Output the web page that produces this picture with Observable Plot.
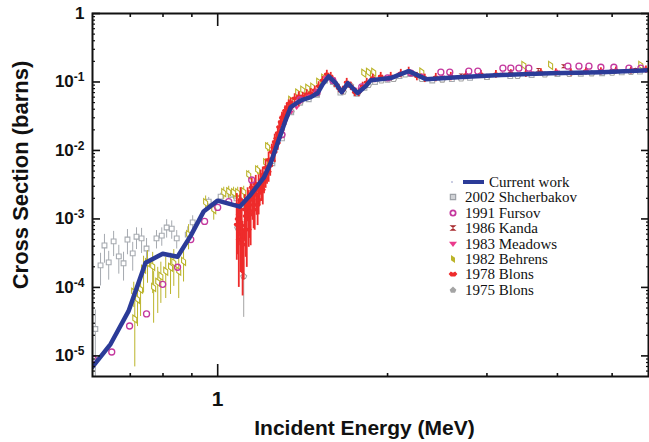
<!DOCTYPE html>
<html><head><meta charset="utf-8">
<script src="https://cdn.jsdelivr.net/npm/d3@7"></script>
<script src="https://cdn.jsdelivr.net/npm/@observablehq/plot@0.6"></script>
<style>
body{margin:0;background:#fff}
#wrap{position:relative;width:649px;height:442px}
.leg{position:absolute;font-family:"Liberation Serif","Times New Roman",serif;font-size:15px;line-height:15px;color:#111;white-space:nowrap}
</style></head><body><div id="wrap"></div>
<script>
// ---------- data (Energy in MeV, cross section in barns, rel = relative uncertainty) ----------
const currentE  = [0.600,0.646,0.695,0.745,0.799,0.849,0.896,0.944,1.000,1.094,1.144,1.207,1.242,1.283,1.320,1.347,1.404,1.462,1.504,1.535,1.573,1.619,1.659,1.700,1.735,1.771,1.830,1.867,2.026,2.111,2.180,2.340,2.660,3.180,3.890,4.780,5.810];
const currentXS = [6.9e-6,1.49e-5,4.5e-5,2.3e-4,3.1e-4,2.8e-4,5.7e-4,1.28e-3,1.85e-3,1.51e-3,2.26e-3,4.0e-3,6.6e-3,1.43e-2,2.8e-2,4.3e-2,5.4e-2,6.0e-2,6.9e-2,9.3e-2,0.121,0.096,0.071,0.096,0.081,0.069,0.087,0.106,0.114,0.130,0.144,0.110,0.117,0.126,0.134,0.139,0.148];

const shchE   = [0.607,0.620,0.630,0.641,0.654,0.668,0.681,0.692,0.707,0.718,0.733,0.748,0.779,0.796,0.812,0.829,0.846,0.885,0.903,0.964,1.012,1.054,1.08,1.10,1.13,1.16,1.20,1.25,1.30,1.35,1.40,1.45,1.50,1.55,1.60,1.65,1.70,1.76,1.82,1.90,2.0,2.1,2.2,2.4,2.6,2.8,3.0,3.3,3.6,4.0,4.4,4.8,5.2,5.6];
const shchXS  = [2.47e-5,2.10e-4,4.1e-4,2.32e-4,4.7e-4,2.84e-4,2.25e-4,5.0e-4,3.14e-4,5.5e-4,5.2e-4,3.7e-4,5.2e-4,5.7e-4,7.5e-4,7.2e-4,5.2e-4,5.9e-4,8.9e-4,1.79e-3,2.12e-3,2.26e-3,2.0e-3,1.6e-3,1.9e-3,2.6e-3,3.5e-3,6.5e-3,1.5e-2,3.6e-2,5.0e-2,5.6e-2,6.5e-2,0.105,0.100,0.070,0.090,0.068,0.082,0.100,0.108,0.122,0.130,0.105,0.110,0.115,0.118,0.122,0.126,0.130,0.132,0.134,0.138,0.142];
const shchRel = [0.9,0.5,0.45,0.45,0.4,0.45,0.45,0.4,0.45,0.35,0.4,0.4,0.3,0.3,0.3,0.3,0.3,0.3,0.25,0.15,0.12,0.12,0.15,0.15,0.12,0.1,0.1,0.08,0.06,0.06,0.06,0.06,0.06,0.06,0.06,0.06,0.06,0.06,0.06,0.06,0.06,0.06,0.06,0.06,0.06,0.06,0.06,0.06,0.06,0.06,0.06,0.06,0.06,0.06];

const fursovE  = [0.602,0.649,0.698,0.748,0.799,0.849,0.896,0.948,1.000,1.046,1.149,1.30,1.40,1.50,1.60,1.80,2.00,2.20,2.486,2.578,2.786,2.891,3.202,3.307,3.418,3.559,4.174,4.367,4.549,4.776,5.036,5.355,5.623];
const fursovXS = [9.0e-6,1.14e-5,2.73e-5,4.1e-5,1.11e-4,1.97e-4,5.0e-4,9.2e-4,1.47e-3,1.79e-3,3.7e-3,0.017,0.055,0.070,0.105,0.085,0.115,0.135,0.139,0.139,0.144,0.144,0.159,0.159,0.159,0.159,0.170,0.170,0.170,0.164,0.164,0.159,0.159];

const kandaE  = [2.2,2.7,3.3,3.7,4.1,4.4,5.0,5.5];
const kandaXS = [0.130,0.125,0.140,0.150,0.170,0.135,0.145,0.150];

const meadowsE  = [1.30,1.35,1.38,1.40,1.45,1.50,1.55,1.60,1.65,1.70,1.75,1.80,1.90,2.00,2.10,2.20,2.30,2.50,2.80,3.20,3.60,4.00,4.50,5.00,5.50];
const meadowsXS = [0.020,0.036,0.042,0.050,0.062,0.075,0.115,0.100,0.075,0.095,0.078,0.080,0.105,0.115,0.130,0.140,0.125,0.118,0.120,0.130,0.135,0.140,0.142,0.145,0.150];

const behrensE   = [0.710,0.713,0.721,0.730,0.739,0.751,0.767,0.770,0.783,0.793,0.809,0.825,0.836,0.853,0.870,0.888,0.952,0.984,1.025,1.046,1.067,1.085,1.112,1.135,1.177,1.216,1.226,1.347,1.386,1.415,1.444,1.474,1.510,1.541,1.815,1.850,1.890,2.300,3.488,3.890,5.620];
const behrensXS  = [8.5e-5,3.45e-5,6.7e-5,9.4e-5,1.84e-4,2.3e-4,2.03e-4,1.0e-4,1.19e-4,1.46e-4,1.72e-4,1.97e-4,2.3e-4,1.72e-4,2.4e-4,5.9e-4,1.73e-3,1.37e-3,2.42e-3,2.5e-3,2.42e-3,2.42e-3,2.5e-3,4.4e-3,5.2e-3,6.6e-3,1.13e-2,5.4e-2,6.9e-2,7.6e-2,8.1e-2,8.4e-2,9.9e-2,0.114,0.134,0.139,0.139,0.140,0.175,0.175,0.175];
const behrensRel = [0.4,0.8,0.6,0.6,0.55,0.5,0.6,0.7,0.65,0.6,0.6,0.6,0.55,0.6,0.5,0.4,0.25,0.3,0.2,0.2,0.2,0.2,0.2,0.15,0.15,0.15,0.15,0.06,0.06,0.06,0.06,0.06,0.06,0.06,0.06,0.06,0.06,0.06,0.06,0.06,0.06];

const blons78E   = [1.081,1.081,1.090,1.090,1.098,1.098,1.107,1.112,1.117,1.126,1.135,1.135,1.144,1.144,1.153,1.163,1.163,1.172,1.182,1.182,1.192,1.202,1.202,1.216,1.216,1.231,1.231,1.247,1.247,1.262,1.262,1.278,1.278,1.293,1.293,1.309,1.309,1.326,1.326,1.347,1.347,1.369,1.392,1.392,1.415,1.438,1.462,1.486,1.510,1.535,1.561,1.586,1.612,1.639,1.666,1.693,1.721,1.750,1.778,1.807,1.837,1.883,1.945,2.026,2.111,2.180,2.254,2.328,2.435,2.589,2.753,2.927,3.112,3.307,3.516,3.739,3.974,4.226,4.493,4.776,5.078,5.399,5.740,
                    1.085,1.094,1.103,1.121,1.130,1.140,1.149,1.158,1.168,1.177,1.187,1.197,1.208,1.223,1.239,1.255,1.270,1.285,1.300,1.317,1.336];
const blons78XS  = [1.62e-3,8.3e-4,1.16e-3,5.0e-4,1.91e-3,6.6e-4,5.0e-4,4.25e-4,1.37e-3,9.8e-4,1.62e-3,7.0e-4,2.26e-3,1.16e-3,1.91e-3,2.67e-3,1.37e-3,2.26e-3,3.16e-3,1.91e-3,3.7e-3,4.4e-3,2.67e-3,5.6e-3,4.0e-3,7.3e-3,4.9e-3,9.5e-3,7.3e-3,1.33e-2,9.5e-3,1.80e-2,1.29e-2,2.6e-2,1.86e-2,3.3e-2,2.44e-2,4.2e-2,3.2e-2,5.1e-2,4.2e-2,5.8e-2,6.2e-2,5.1e-2,6.2e-2,6.65e-2,6.9e-2,7.6e-2,8.7e-2,0.106,0.130,0.121,0.099,0.081,0.076,0.099,0.087,0.071,0.071,0.087,0.099,0.114,0.121,0.121,0.134,0.144,0.121,0.114,0.117,0.121,0.126,0.130,0.130,0.134,0.134,0.139,0.139,0.139,0.144,0.144,0.148,0.148,0.153,
                    1.0e-3,1.4e-3,8.0e-4,1.1e-3,1.9e-3,1.3e-3,2.9e-3,1.6e-3,3.2e-3,1.6e-3,2.6e-3,3.0e-3,3.6e-3,4.6e-3,6.0e-3,1.1e-2,1.5e-2,2.2e-2,3.0e-2,3.8e-2,4.8e-2];
const blons78Rel = [0.45,0.7,0.65,0.8,0.5,0.75,0.85,0.7,0.65,0.8,0.6,0.45,0.5,0.65,0.5,0.4,0.5,0.5,0.4,0.4,0.4,0.3,0.4,0.3,0.3,0.3,0.3,0.3,0.22,0.3,0.3,0.22,0.22,0.22,0.22,0.18,0.22,0.18,0.18,0.14,0.14,0.16,0.16,0.16,0.14,0.16,0.16,0.14,0.16,0.14,0.14,0.14,0.16,0.14,0.14,0.14,0.14,0.14,0.14,0.14,0.14,0.14,0.14,0.14,0.14,0.14,0.14,0.14,0.14,0.14,0.14,0.13,0.13,0.13,0.13,0.12,0.12,0.12,0.12,0.12,0.12,0.12,0.12,
                    0.7,0.6,0.8,0.75,0.5,0.6,0.35,0.55,0.35,0.5,0.4,0.4,0.35,0.3,0.3,0.25,0.22,0.22,0.2,0.18,0.14];

const blons75E   = [1.085,1.112,1.090,1.100,1.150,1.200,1.250,1.300,1.350,1.400,1.500,1.560,1.620,1.670,1.720,1.770,1.850,1.950,2.050,2.150,2.300,2.500,2.700,3.000,3.400,3.800,4.200,4.600,5.000,5.400];
const blons75XS  = [7.5e-4,1.46e-4,2.0e-3,1.5e-3,2.2e-3,3.6e-3,7.0e-3,1.7e-2,3.7e-2,5.0e-2,6.6e-2,0.115,0.092,0.072,0.090,0.068,0.090,0.105,0.110,0.128,0.110,0.108,0.112,0.118,0.122,0.128,0.130,0.133,0.136,0.140];
const blons75Rel = [0.4,0.75,0.2,0.3,0.2,0.15,0.1,0.08,0.06,0.06,0.06,0.06,0.06,0.06,0.06,0.06,0.06,0.06,0.06,0.06,0.06,0.06,0.06,0.06,0.06,0.06,0.06,0.06,0.06,0.06];

const legendLabels = ["Current work","2002 Shcherbakov","1991 Fursov","1986 Kanda","1983 Meadows","1982 Behrens","1978 Blons","1975 Blons"];
const yTicks = [1,0.1,0.01,1e-3,1e-4,1e-5];
const xTicksMajor = [1];
const xTicksMinor = [0.7,0.8,0.9,2,3,4,5];

// ---------- helpers ----------
const zip = (E, S, R) => E.map((e,i) => ({E:e, s:S[i], f: R ? R[i] : 0}));
const cur = zip(currentE, currentXS);
const shch = zip(shchE, shchXS, shchRel);
const furs = zip(fursovE, fursovXS);
const kanda = zip(kandaE, kandaXS);
const mead = zip(meadowsE, meadowsXS);
const behr = zip(behrensE, behrensXS, behrensRel);
const b78 = zip(blons78E, blons78XS, blons78Rel);
const b75 = zip(blons75E, blons75XS, blons75Rel);

const C = {blue:"#2b3b98", shch:"#a6aab0", furs:"#c4389e", kanda:"#a82a2e", mead:"#ea3a8c", behr:"#bbb42a", b78:"#ee2b2b", b75:"#a4a4a4"};

const rad = s => Math.sqrt(s/Math.PI);
const bowtie = {draw(c,s){const r=rad(s); c.moveTo(-r,-r*0.75);c.lineTo(r,-r*0.75);c.lineTo(-r,r*0.75);c.lineTo(r,r*0.75);c.closePath();}};
const triDown = {draw(c,s){const r=rad(s); c.moveTo(-r,-0.55*r);c.lineTo(r,-0.55*r);c.lineTo(0,0.75*r);c.closePath();}};
const leaf = {draw(c,s){const r=rad(s); c.moveTo(-0.5*r,-r);c.lineTo(0.5*r,-0.3*r);c.lineTo(0.5*r,r);c.lineTo(-0.5*r,0.3*r);c.closePath();}};
const lips = {draw(c,s){const r=rad(s); c.moveTo(-r,0);c.lineTo(-0.5*r,-0.55*r);c.lineTo(0,-0.3*r);c.lineTo(0.5*r,-0.55*r);c.lineTo(r,0);c.lineTo(0.5*r,0.55*r);c.lineTo(-0.5*r,0.55*r);c.closePath();}};
const house = {draw(c,s){const r=rad(s); c.moveTo(0,-r);c.lineTo(r,-0.1*r);c.lineTo(0.6*r,0.8*r);c.lineTo(-0.6*r,0.8*r);c.lineTo(-r,-0.1*r);c.closePath();}};

const yMinor = [];
for (let k=-6;k<0;k++) for (let m=2;m<=9;m++){const v=m*Math.pow(10,k); if (v>5e-6 && v<1) yMinor.push(v);}

const err = (data, color, w=1) => Plot.ruleX(data, {x:"E", y1:d=>d.s*(1-d.f), y2:d=>d.s*(1+d.f), stroke:color, strokeWidth:w, clip:true});
const fmtY = d => d===1 ? "1" : "10^" + Math.round(Math.log10(d));
const tickTxt = {fontSize:17, fontWeight:"bold"};

const plot = Plot.plot({
  width:649, height:442,
  marginLeft:92, marginRight:1, marginTop:13, marginBottom:66,
  style:{fontFamily:"'Liberation Sans', Arial, Helvetica, sans-serif", color:"#111", background:"white"},
  x:{type:"log", domain:[0.6,5.8]},
  y:{type:"log", domain:[5e-6,1]},
  marks:[
    // 2002 Shcherbakov
    err(shch, C.shch),
    Plot.dot(shch, {x:"E", y:"s", symbol:"square", r:2.7, stroke:C.shch, fill:"white", strokeWidth:1.1, clip:true}),
    // 1975 Blons
    err(b75, C.b75),
    Plot.dot(b75, {x:"E", y:"s", symbol:house, r:3, stroke:C.b75, fill:"white", strokeWidth:1.1, clip:true}),
    // 1982 Behrens
    err(behr, C.behr),
    Plot.dot(behr, {x:"E", y:"s", symbol:leaf, r:4, stroke:C.behr, fill:"white", strokeWidth:1.1, clip:true}),
    // 1978 Blons
    err(b78, C.b78, 1.8),
    Plot.ruleY(b78, {y:"s", x1:d=>d.E*0.992, x2:d=>d.E*1.008, stroke:C.b78, strokeWidth:2.5, clip:true}),
    Plot.dot(b78, {x:"E", y:"s", symbol:lips, r:3.2, fill:C.b78, clip:true}),
    // 1983 Meadows
    err(mead.map(d=>({...d,f:0.06})), C.mead),
    Plot.dot(mead, {x:"E", y:"s", symbol:triDown, r:2.8, fill:C.mead, clip:true}),
    // 1986 Kanda
    Plot.dot(kanda, {x:"E", y:"s", symbol:bowtie, r:2.6, fill:C.kanda, clip:true}),
    // 1991 Fursov
    Plot.dot(furs, {x:"E", y:"s", symbol:"circle", r:3, stroke:C.furs, fill:"none", strokeWidth:1.3, clip:true}),
    // Current work
    Plot.line(cur, {x:"E", y:"s", stroke:C.blue, strokeWidth:4.5, strokeLinejoin:"round", clip:true}),
    // axes (ticks inward)
    Plot.axisY({ticks:yTicks, tickSize:-8, tickPadding:16, tickFormat:fmtY, label:null, strokeWidth:1.6, ...tickTxt}),
    Plot.axisY({ticks:yMinor, tickSize:-3, tickFormat:()=>"", label:null, strokeWidth:1.2}),
    Plot.axisY({anchor:"right", ticks:yTicks, tickSize:-8, tickFormat:()=>"", label:null, strokeWidth:1.6}),
    Plot.axisY({anchor:"right", ticks:yMinor, tickSize:-3, tickFormat:()=>"", label:null, strokeWidth:1.2}),
    Plot.axisX({ticks:xTicksMajor, tickSize:-12, tickPadding:27, tickFormat:d=>String(d), label:null, strokeWidth:1.6, fontSize:21, fontWeight:"bold"}),
    Plot.axisX({ticks:xTicksMinor, tickSize:-3, tickFormat:()=>"", label:null, strokeWidth:1.6}),
    Plot.axisX({anchor:"top", ticks:xTicksMajor, tickSize:-12, tickFormat:()=>"", label:null, strokeWidth:1.6}),
    Plot.axisX({anchor:"top", ticks:xTicksMinor, tickSize:-3, tickFormat:()=>"", label:null, strokeWidth:1.6}),
    Plot.frame({stroke:"#111", strokeWidth:2}),
    // axis titles
    Plot.text(["Cross Section (barns)"], {frameAnchor:"left", dx:-72, dy:-20, rotate:-90, textAnchor:"middle", lineAnchor:"middle", fontSize:22, fontWeight:"bold", fill:"#111"}),
    Plot.text(["Incident Energy (MeV)"], {frameAnchor:"bottom", dx:-6, dy:52, textAnchor:"middle", lineAnchor:"middle", fontSize:21, fontWeight:"bold", fill:"#111"})
  ]
});

// superscript exponents on y tick labels
d3.select(plot).selectAll('g[aria-label="y-axis tick label"] text').each(function(){
  const t = this.textContent;
  if (t.startsWith("10^")) {
    const e = t.slice(3);
    this.textContent = "10";
    d3.select(this).append("tspan").attr("dy","-0.5em").attr("font-size","12").text(e);
  }
});

const wrap = document.getElementById("wrap");
wrap.appendChild(plot);

// ---------- legend (HTML overlay) ----------
const legSyms = [
  null,
  {type:d3.symbolSquare, size:28, fill:"#d0d2d6", stroke:"#9da1a7", sw:1.2},
  {type:d3.symbolCircle, size:22, fill:"none", stroke:C.furs, sw:1.8},
  {type:bowtie, size:40, fill:C.kanda, stroke:"none"},
  {type:triDown, size:50, fill:C.mead, stroke:"none"},
  {type:leaf, size:50, fill:C.behr, stroke:"none"},
  {type:lips, size:60, fill:C.b78, stroke:"none"},
  {type:house, size:36, fill:C.b75, stroke:"none"}
];
legendLabels.forEach((lab,i)=>{
  const cy = 182 + i*15.4;
  const row = document.createElement("div");
  row.className = "leg";
  row.style.left = "440px"; row.style.top = (cy-8)+"px"; row.style.height="16px";
  const svgNS = "http://www.w3.org/2000/svg";
  const s = document.createElementNS(svgNS,"svg");
  s.setAttribute("width", i===0 ? 48 : 24); s.setAttribute("height", 16);
  s.style.verticalAlign = "top";
  if (i===0) {
    const dot = document.createElementNS(svgNS,"circle");
    dot.setAttribute("cx",12); dot.setAttribute("cy",8); dot.setAttribute("r",0.8); dot.setAttribute("fill","#8890c0");
    s.appendChild(dot);
    const ln = document.createElementNS(svgNS,"line");
    ln.setAttribute("x1",23); ln.setAttribute("x2",44); ln.setAttribute("y1",8); ln.setAttribute("y2",8);
    ln.setAttribute("stroke",C.blue); ln.setAttribute("stroke-width",4);
    s.appendChild(ln);
  } else {
    const m = legSyms[i];
    const p = document.createElementNS(svgNS,"path");
    p.setAttribute("d", d3.symbol().type(m.type).size(m.size)());
    p.setAttribute("transform","translate(13,8)");
    p.setAttribute("fill", m.fill); p.setAttribute("stroke", m.stroke);
    if (m.sw) p.setAttribute("stroke-width", m.sw);
    s.appendChild(p);
  }
  row.appendChild(s);
  const sp = document.createElement("span");
  sp.textContent = lab;
  sp.style.display = "inline-block"; sp.style.paddingLeft = "1px"; sp.style.lineHeight="16px";
  row.appendChild(sp);
  wrap.appendChild(row);
});
</script></body></html>
